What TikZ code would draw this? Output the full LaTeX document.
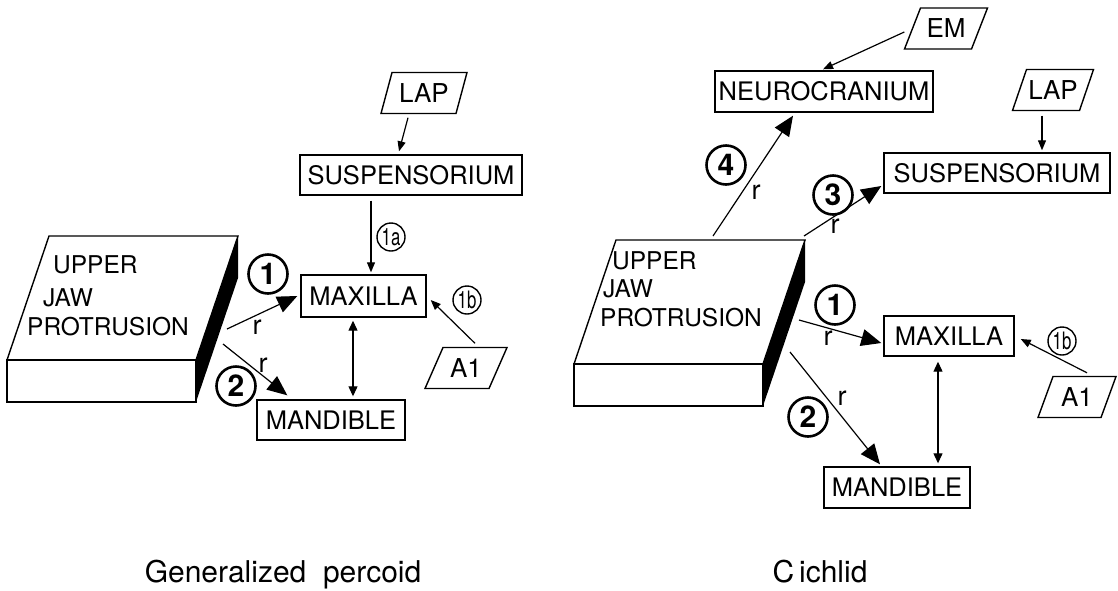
\documentclass[tikz,border=0pt]{standalone}
\usepackage{fontspec}
\usepackage{graphicx}
\setmainfont{TeX Gyre Heros}
\usetikzlibrary{arrows.meta,calc}

\tikzset{
  box/.style={draw, line width=1.4pt, inner sep=0pt, font=\fontsize{25.5}{30}\selectfont},
  outline/.style={line width=1.4pt, line join=miter},
  bigarrow/.style={line width=1.2pt, -{Triangle[length=20pt,width=17pt]}},
  smallarrow/.style={line width=1.2pt, -{Triangle[length=10pt,width=8pt]}},
  twoarrow/.style={line width=1.2pt, {Triangle[length=10pt,width=9pt]}-{Triangle[length=10pt,width=9pt]}},
  bignum/.style={circle, draw, line width=2.6pt, minimum size=39pt, inner sep=0pt,
    font=\bfseries\fontsize{30}{30}\selectfont},
  smallnum/.style={circle, draw, line width=1.4pt, minimum size=28pt, inner sep=0pt,
    font=\fontsize{24}{24}\selectfont},
  rlabel/.style={inner sep=0pt, font=\fontsize{27}{27}\selectfont},
  caption/.style={inner sep=0pt, anchor=base, font=\fontsize{30}{30}\selectfont},
  blockline/.style={inner sep=0pt, anchor=base west, font=\fontsize{24.5}{25}\selectfont},
  paratext/.style={inner sep=0pt, font=\fontsize{26}{30}\selectfont},
}

% slanted input box: name, x, y, edge length, slant, text
\newcommand\slantbox[6]{%
  \node[paratext, minimum width=#4pt, minimum height=41pt] (#1) at (#2,#3) {#6};
  \draw[outline] ($(#1.center)+({-#4/2-#5/2},20.5)$) -- ++(#4,0) -- ++(#5,-41)
    -- ++(-#4,0) -- cycle;
}

% the jaw block: x, y of the front face's upper left corner
\newcommand\jawblock[2]{%
  \fill (#1+189,#2) -- ++(42,-124) -- ++(0,42) -- (#1+189,#2+42) -- cycle;
  \draw[outline] (#1,#2) rectangle ++(189,42);
  \draw[outline] (#1,#2) -- ++(42,-124) -- ++(189,0) -- (#1+189,#2);
}

\newcommand\cnum[1]{\scalebox{0.7}[1]{#1}}

\begin{document}
\begin{tikzpicture}[x=1pt,y=-1pt]
\fill[white] (0,0) rectangle (1118,590);
\useasboundingbox (0,0) rectangle (1118,590);

% ---------------- generalized percoid ----------------
\jawblock{7}{360}
\node[blockline] (jawLa) at (53,273) {UPPER};
\node[blockline] (jawLb) at (43,306) {JAW};
\node[blockline] (jawLc) at (27,335) {PROTRUSION};
\coordinate (jawLr1) at (227,329);
\coordinate (jawLr2) at (223,344);

\slantbox{lapL}{424}{93}{75}{11}{LAP}
\node[box, minimum width=222pt, minimum height=40pt] (suspL) at (411,175) {SUSPENSORIUM};
\node[box, minimum width=125pt, minimum height=42pt] (maxL) at (363.5,296) {MAXILLA};
\node[box, minimum width=148pt, minimum height=40pt] (mandL) at (331,420) {MANDIBLE};
\slantbox{aL}{466}{368}{64}{18}{A1}

\draw[smallarrow] ($(lapL.south)+(-16,4)$) -- ($(suspL.north)+(-12,-3)$);
\draw[smallarrow] ($(suspL.south)+(-40,5)$) -- ($(maxL.north)+(7.5,-2)$);
\draw[bigarrow] (jawLr1) -- ($(maxL.west)+(-3,0)$);
\draw[bigarrow] (jawLr2) -- ($(mandL.north west)+(31,-4)$);
\draw[twoarrow] ($(maxL.south)+(-10.5,3)$) -- ($(mandL.north)+(22,-3)$);
\draw[smallarrow] ($(aL.north)+(9,-4)$) -- ($(maxL.east)+(4,4)$);

\node[smallnum] (n1aL) at (391,237) {\cnum{1a}};
\node[smallnum] (n1bL) at (467,300) {\cnum{1b}};
\node[bignum] (n1L) at (268,274) {1};
\node[bignum] (n2L) at (236,386) {2};
\node[rlabel] (r1L) at (257,327) {r};
\node[rlabel] (r2L) at (263,365) {r};

\node[caption] (capL) at (283,582) {Generalized\ \ percoid};

% ---------------- cichlid ----------------
\jawblock{574}{364}
\node[blockline] (jawRa) at (612,269) {UPPER};
\node[blockline] (jawRb) at (603,297) {JAW};
\node[blockline] (jawRc) at (600,326) {PROTRUSION};
\coordinate (jawR4) at (713,236);
\coordinate (jawR3) at (804,236);
\coordinate (jawR1) at (799,320);
\coordinate (jawR2) at (790,352);

\slantbox{emR}{946}{28.5}{67}{16}{EM}
\slantbox{lapR}{1053}{90}{67}{14}{LAP}
\node[box, minimum width=218pt, minimum height=41pt] (neuro) at (824,91.5) {NEUROCRANIUM};
\node[box, minimum width=226pt, minimum height=40pt] (suspR) at (997,173) {SUSPENSORIUM};
\node[box, minimum width=130pt, minimum height=40pt] (maxR) at (949,336) {MAXILLA};
\node[box, minimum width=146pt, minimum height=41pt] (mandR) at (897,487.5) {MANDIBLE};
\slantbox{aR}{1077}{397}{63}{15}{A1}

\draw[smallarrow] ($(emR.west)+(-8,3.5)$) -- ($(neuro.north)+(-1,-1)$);
\draw[smallarrow] ($(lapR.south)+(-11,5)$) -- ($(suspR.north)+(45,-2)$);
\draw[bigarrow] (jawR4) -- ($(neuro.south)+(-31,3)$);
\draw[bigarrow] (jawR3) -- ($(suspR.west)+(-2,13)$);
\draw[bigarrow] (jawR1) -- ($(maxR.west)+(-2,7)$);
\draw[bigarrow] (jawR2) -- ($(mandR.north)+(-17,-2)$);
\draw[twoarrow] ($(maxR.south)+(-11,5)$) -- ($(mandR.north)+(41,-3)$);
\draw[smallarrow] ($(aR.north)+(10,-3.5)$) -- ($(maxR.east)+(6,3)$);

\node[bignum] (n4R) at (726,165) {4};
\node[bignum] (n3R) at (833,195) {3};
\node[bignum] (n1R) at (835,305) {1};
\node[bignum] (n2R) at (808,417) {2};
\node[smallnum] (n1bR) at (1062,341) {\cnum{1b}};
\node[rlabel] (r4R) at (756,192) {r};
\node[rlabel] (r3R) at (835,226) {r};
\node[rlabel] (r1R) at (828,338) {r};
\node[rlabel] (r2R) at (842,398) {r};

\node[caption] (capR) at (820,582) {C\,ichlid};
\end{tikzpicture}
\end{document}
